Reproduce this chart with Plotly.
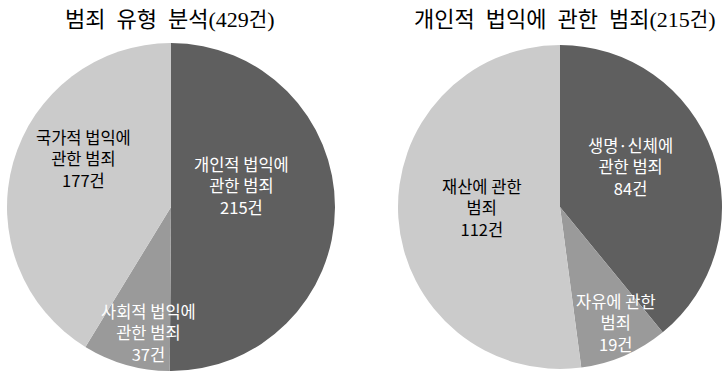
import math
import plotly.graph_objects as go

W, H = 722, 373

# ---- data ----
left_title_main = "범죄 유형 분석"
left_total = 429
left_labels = ["개인적 법익에<br>관한 범죄", "사회적 법익에<br>관한 범죄", "국가적 법익에<br>관한 범죄"]
left_values = [215, 37, 177]

right_title_main = "개인적 법익에 관한 범죄"
right_total = 215
right_labels = ["생명·신체에<br>관한 범죄", "자유에 관한<br>범죄", "재산에 관한<br>범죄"]
right_values = [84, 19, 112]

# ---- style ----
colors = ["#5f5f5f", "#9a9a9a", "#cbcbcb"]
text_colors = ["white", "white", "black"]
KFONT = "Noto Sans CJK KR"
SFONT = "Liberation Serif"

# label placement (angle deg clockwise from 12 o'clock, fraction of radius)
left_label_pos = [(73.3, 0.45), (190.3, 0.78), (299.1, 0.61)]
right_label_pos = [(60.3, 0.50), (154.2, 0.79), (269.3, 0.48)]

left_dom = dict(x=[7 / W, 335 / W], y=[2 / H, 330 / H])
right_dom = dict(x=[398 / W, 1.0], y=[2 / H, 330 / H])

fig = go.Figure()
for labels, values, dom in [(left_labels, left_values, left_dom),
                            (right_labels, right_values, right_dom)]:
    fig.add_trace(go.Pie(
        labels=labels, values=values, domain=dom,
        sort=False, direction="clockwise", rotation=0,
        marker=dict(colors=colors, line=dict(width=0)),
        textinfo="none", hoverinfo="label+value", showlegend=False,
    ))

annotations = []


def add_labels(labels, values, dom, pos):
    x0, x1 = dom["x"][0] * W, dom["x"][1] * W
    y0, y1 = dom["y"][0] * H, dom["y"][1] * H
    cx, cy = (x0 + x1) / 2, (y0 + y1) / 2  # cy measured from bottom
    R = min(x1 - x0, y1 - y0) / 2
    for lab, val, (ang, frac), tc in zip(labels, values, pos, text_colors):
        a = math.radians(ang)
        px = cx + frac * R * math.sin(a)
        py = cy + frac * R * math.cos(a)
        annotations.append(dict(
            x=px / W, y=py / H, xref="paper", yref="paper",
            text=f"{lab}<br>{val}건", showarrow=False,
            font=dict(family=KFONT, size=16.5, color=tc),
            xanchor="center", yanchor="middle", align="center",
        ))


add_labels(left_labels, left_values, left_dom, left_label_pos)
add_labels(right_labels, right_values, right_dom, right_label_pos)


def title_text(main, total):
    main_sp = main.replace(" ", "\u2002")
    return (f"{main_sp}<span style=\"font-family:'{SFONT}', serif; font-size:22px\">"
            f"({total}</span><span style=\"font-size:20px\">건</span>"
            f"<span style=\"font-family:'{SFONT}', serif; font-size:22px\">)</span>")


annotations.append(dict(x=170 / W, y=1 - 17 / H, xref="paper", yref="paper",
                        text=title_text(left_title_main, left_total), showarrow=False,
                        font=dict(family=KFONT, size=22, color="black"),
                        xanchor="center", yanchor="middle"))
annotations.append(dict(x=564 / W, y=1 - 17 / H, xref="paper", yref="paper",
                        text=title_text(right_title_main, right_total), showarrow=False,
                        font=dict(family=KFONT, size=22, color="black"),
                        xanchor="center", yanchor="middle"))

fig.update_layout(
    width=W, height=H, margin=dict(l=0, r=0, t=0, b=0),
    paper_bgcolor="white", plot_bgcolor="white",
    annotations=annotations,
)

fig.write_html("out.html")
